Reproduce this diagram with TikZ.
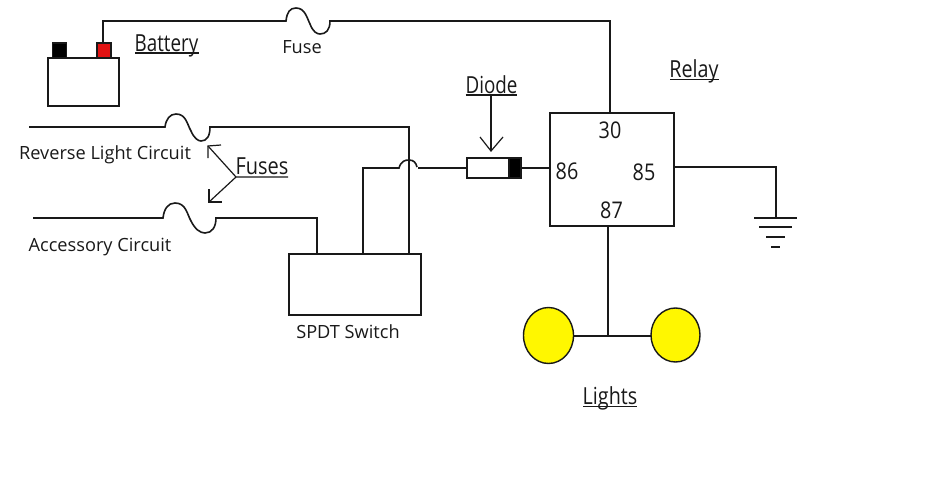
\documentclass[tikz,border=0pt]{standalone}
\usepackage{fontspec}
\setmainfont{Open Sans}
\usetikzlibrary{shapes.geometric}
\definecolor{lampyellow}{RGB}{255,247,0}
\definecolor{termred}{RGB}{226,18,18}
\newcommand{\narrowtext}[2]{\scalebox{#1}[1]{#2}}
\tikzset{
  wire/.style={draw=black!90,line width=1.6pt,line join=miter},
  gnd bar/.style={draw=black!90,line width=2pt},
  thin wire/.style={draw=black!90,line width=1.2pt},
  box/.style={draw=black!90,line width=1.6pt,fill=white,inner sep=0pt,outer sep=0pt,minimum width=#1},
  lab/.style={inner sep=0pt,font=\fontsize{18.2}{20}\selectfont,text=black!90,anchor=base},
  ulab/.style={inner sep=0pt,font=\fontsize{23.5}{26}\selectfont,text=black!90,anchor=base},
  num/.style={inner sep=0pt,font=\fontsize{23}{26}\selectfont,text=black!90,anchor=base},
  lamp/.style={ellipse,draw=black!90,line width=1.4pt,fill=lampyellow,inner sep=0pt,outer sep=0pt},
}
\begin{document}
\begin{tikzpicture}[x=1pt,y=-1pt]
\useasboundingbox (0,0) rectangle (926,482);
% anchors
\coordinate (revstart) at (29,127);
\coordinate (revf1) at (165,127);
\coordinate (revf2) at (210,127);
\coordinate (revcorner) at (409,127);
\coordinate (accstart) at (33,218);
\coordinate (accf1) at (163,218);
\coordinate (accf2) at (216,218);
\coordinate (acccorner) at (317,218);
\coordinate (batcorner) at (103,21);
\coordinate (fusea) at (286,21);
\coordinate (fuseb) at (330,21);
\coordinate (relaycorner) at (610,21);
\coordinate (swcorner) at (363,168);
\coordinate (jumpa) at (399,168);
\coordinate (jumpb) at (418,168);
\coordinate (gndcorner) at (776,167);
\coordinate (gnd1) at (776,217);
\coordinate (lampjoin) at (608,336);
% boxes
\node[box=71pt,minimum height=48pt] (battery) at (83.500,82) {};
\node[box=14pt,minimum height=15pt,fill=black] (neg) at (59.500,50.500) {};
\node[box=14pt,minimum height=15pt,fill=termred] (pos) at (104,50.500) {};
\node[box=132pt,minimum height=61pt] (switch) at (355,284.500) {};
\node[box=124pt,minimum height=113pt] (relay) at (612,169.500) {};
\node[box=54pt,minimum height=20pt] (diode) at (494,168) {};
\node[box=12pt,minimum height=20pt,fill=black] (band) at (515,168) {};
% wires
\draw[wire] (pos.north -| batcorner) -- (batcorner) -- (fusea)
  .. controls (287,12) and (290,8) .. (296,8)
  .. controls (305,8) and (307,18) .. (310,24)
  .. controls (313,32) and (317,34) .. (320,34)
  .. controls (326,34) and (330,30) .. (330,21)
  -- (fuseb) -- (relaycorner) -- (relay.north -| relaycorner);
\draw[wire] (revstart) -- (revf1)
  .. controls (166,119) and (170,114) .. (176,114)
  .. controls (186,114) and (187,124) .. (191,131)
  .. controls (194,138) and (198,141) .. (201,141)
  .. controls (207,141) and (210,136) .. (210,127)
  -- (revcorner) -- (switch.north -| revcorner);
\draw[wire] (accstart) -- (accf1)
  .. controls (164,209) and (168,203) .. (175,203)
  .. controls (186,203) and (187,214) .. (191,221)
  .. controls (195,229) and (200,233) .. (205,233)
  .. controls (212,233) and (216,227) .. (216,218)
  -- (acccorner) -- (switch.north -| acccorner);
\draw[wire] (switch.north -| swcorner) -- (swcorner) -- (jumpa)
  .. controls (401,161) and (405,160) .. (409,160)
  .. controls (414,160) and (416,163) .. (417,167);
\draw[wire] (jumpb) -- (diode.west);
\draw[wire] (diode.east) -- (relay.west |- diode.east);
\draw[wire] (relay.east |- gndcorner) -- (gndcorner) -- (gnd1);
\draw[wire] (relay.south -| lampjoin) -- (lampjoin);
\node[lamp,minimum width=50pt,minimum height=56pt] (lampl) at (548.500,335.500) {};
\node[lamp,minimum width=49pt,minimum height=54pt] (lampr) at (675.500,335) {};
\draw[wire] (lampjoin -| lampl.east) -- (lampjoin -| lampr.west);
% ground
\draw[gnd bar] (754,217.500) -- (797,217.500);
\draw[gnd bar] (759,227) -- (792,227);
\draw[gnd bar] (766,237) -- (785,237);
\draw[gnd bar] (771,246.500) -- (780,246.500);
% pointers
\coordinate (fusetip) at (236,177);
\coordinate (fuseul) at (288,177);
\coordinate (arrup) at (208,146);
\coordinate (arrdn) at (209,202);
\draw[thin wire] (fuseul) -- (fusetip) -- (arrup);
\draw[thin wire] (fusetip) -- (arrdn);
\draw[thin wire] (221,145) -- (arrup) -- (208,158);
\draw[thin wire] (209,189) -- (arrdn) -- (222,202);
\coordinate (diodeul) at (465.500,95);
\coordinate (diodetop) at (491,95);
\coordinate (diodetip) at (491,151);
\draw[thin wire] (diodeul) -- (517,95);
\draw[thin wire] (diodetop) -- (diodetip);
\draw[thin wire] (480,137) -- (diodetip) -- (503,137);
% labels
\node[lab] (tfuse) at (302,53) {Fuse};
\node[lab] (trev) at (105,159) {Reverse Light Circuit};
\node[lab] (tacc) at (100,251) {Accessory Circuit};
\node[lab] (tsw) at (348,338) {SPDT Switch};
\node[ulab] (tbat) at (166.500,51) {\narrowtext{.8}{Battery}};
\node[ulab] (tfuses) at (262,174.500) {\narrowtext{.85}{Fuses}};
\node[ulab] (tdiode) at (491.500,93) {\narrowtext{.8}{Diode}};
\node[ulab] (trelay) at (694,77) {\narrowtext{.84}{Relay}};
\node[ulab] (tlights) at (610,404) {\narrowtext{.84}{Lights}};
\draw[thin wire] (135,53) -- (199,53);
\draw[thin wire] (670,79.500) -- (719,79.500);
\draw[thin wire] (583,406.500) -- (637,406.500);
\node[num] (n30) at (610,138) {\narrowtext{.86}{30}};
\node[num] (n86) at (567,179) {\narrowtext{.86}{86}};
\node[num] (n85) at (644,180) {\narrowtext{.86}{85}};
\node[num] (n87) at (611.500,218) {\narrowtext{.86}{87}};
\end{tikzpicture}
\end{document}
